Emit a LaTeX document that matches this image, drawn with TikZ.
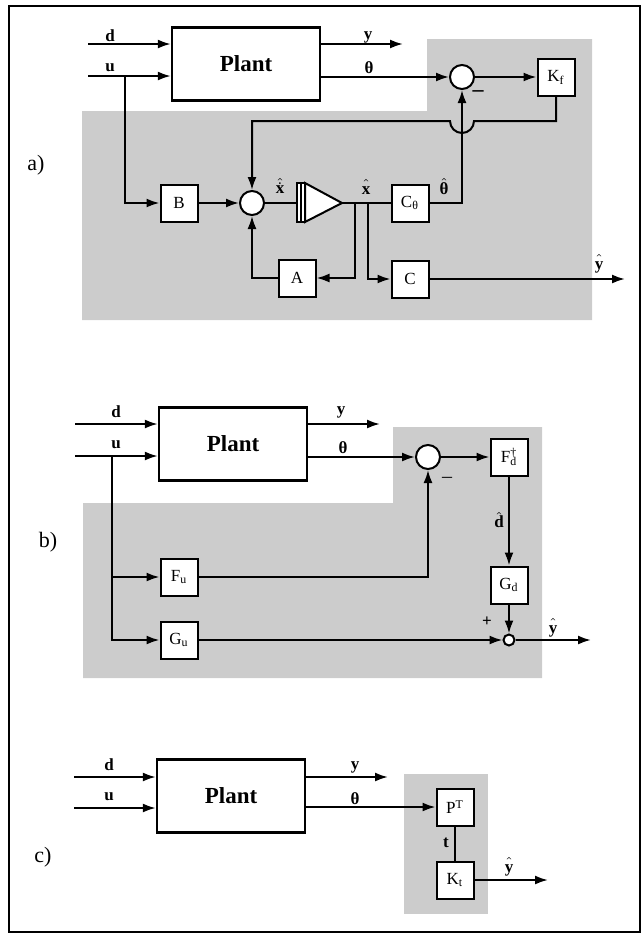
\documentclass[tikz,border=0pt]{standalone}
\usepackage{fontspec}
\setmainfont{Liberation Serif}
\usetikzlibrary{arrows.meta}
\newcommand{\hsig}[1]{$\hat{\vphantom{\textbf{X}}\textbf{#1}}$}

\begin{document}
\begin{tikzpicture}[x=0.5pt, y=-0.5pt, line width=1pt,
  >={Latex[length=6.5pt,width=4.5pt]},
  every node/.style={inner sep=0pt},
  blk/.style={draw, fill=white, minimum width=18.5pt, minimum height=18.5pt, font=\fontsize{8.5}{9}\selectfont},
  plant/.style={draw, line width=1.2pt, minimum width=74pt, minimum height=36.5pt, font=\bfseries\fontsize{11.5}{13}\selectfont},
  sig/.style={font=\bfseries\fontsize{8.5}{9}\selectfont},
  sumc/.style={circle, draw, fill=white, minimum size=12pt},
  tag/.style={font=\fontsize{11}{12}\selectfont},
  shade/.style={fill=black!20}]
\useasboundingbox (0,0) rectangle (641,933);
\draw[line width=0.8pt] (9,6) rectangle (640,932);

% a)
\fill[shade] (82,111) -- (427,111) -- (427,39) -- (592,39) -- (592,320) -- (82,320) -- cycle;
\node[plant] (plantA) at (246,64) {Plant};
\coordinate (dinA) at (88,44);
\coordinate (uinA) at (88,76);
\draw[->] (dinA) -- (dinA -| plantA.west);
\draw[->] (uinA) -- (uinA -| plantA.west);
\node[sig] (dlblA) at (110,36) {d};
\node[sig] (ulblA) at (110,68) {u};
\coordinate (youtA) at (403,44);
\draw[->] (plantA.east |- youtA) -- (youtA);
\node[sig] (ylblA) at (368,37) {y};
\node[sumc] (sumA1) at (462,77) {};
\draw[->] (plantA.east |- sumA1) -- (sumA1);
\node[sig] (thlblA) at (369,68) {θ};
\node[blk] (Kf) at (556,77) {K\textsubscript{f}};
\draw[->] (sumA1) -- (Kf);
\node[sig, font=\bfseries\fontsize{11}{12}\selectfont] (minusA) at (478,94) {–};
\node[sumc] (sumA2) at (252,203) {};
\node[blk] (B) at (179,203) {B};
\coordinate (ubrA) at (125,76);
\draw[->] (ubrA) |- (B);
\draw[->] (B) -- (sumA2);
\coordinate (intin) at (297,203);
\coordinate (intout) at (342,203);
\draw[fill=white] (297,183) rectangle (305,222);
\draw (301,183) -- (301,222);
\draw[fill=white] (305,183) -- (intout) -- (305,222) -- cycle;
\draw (sumA2) -- (intin);
\node[sig] (xdlbl) at (280,186) {$\hat{\dot{\textbf{x}}}$};
\node[blk] (Cth) at (410,203) {C\textsubscript{θ}};
\draw (intout) -- (Cth);
\node[sig] (xlbl) at (366,187) {\hsig{x}};
\node[blk] (A) at (297,278) {A};
\node[blk] (C) at (410,279) {C};
\coordinate (br1) at (355,203);
\coordinate (br2) at (368,203);
\draw[->] (br1) |- (A);
\draw[->] (br2) |- (C);
\draw[->] (A) -| (sumA2);
\draw[->] (Cth) -| (sumA1);
\node[sig] (thhlbl) at (444,187) {\hsig{θ}};
\coordinate (youtA2) at (625,279);
\draw[->] (C) -- (youtA2);
\node[sig] (yhlblA) at (599,264) {\hsig{y}};
\draw[->] (Kf) |- (474,121) arc[start angle=0,end angle=-180,radius=6pt] -| (sumA2);
\node[tag] (tagA) at (36,165) {a)};

% b)
\fill[shade] (83,503) -- (393,503) -- (393,427) -- (542,427) -- (542,678) -- (83,678) -- cycle;
\node[plant] (plantB) at (233,444) {Plant};
\coordinate (dinB) at (75,424);
\coordinate (uinB) at (75,456);
\draw[->] (dinB) -- (dinB -| plantB.west);
\draw[->] (uinB) -- (uinB -| plantB.west);
\node[sig] (dlblB) at (116,412) {d};
\node[sig] (ulblB) at (116,445) {u};
\coordinate (youtB) at (380,424);
\draw[->] (plantB.east |- youtB) -- (youtB);
\node[sig] (ylblB) at (341,412) {y};
\node[sumc] (sumB1) at (428,457) {};
\draw[->] (plantB.east |- sumB1) -- (sumB1);
\node[sig] (thlblB) at (343,448) {θ};
\node[blk] (Fd) at (509,457) {F\textsubscript{d}\llap{\textsuperscript{†}}};
\draw[->] (sumB1) -- (Fd);
\node (minusB) at (447,480) {–};
\node[blk] (Gd) at (509,585) {G\textsubscript{d}};
\draw[->] (Fd) -- (Gd);
\node[sig] (dhlbl) at (499,520) {\hsig{d}};
\node[circle, draw, fill=white, minimum size=5.5pt] (sumB2) at (509,640) {};
\draw[->] (Gd) -- (sumB2);
\node[sig] (plusB) at (487,622) {+};
\coordinate (youtB2) at (591,640);
\draw[->] (sumB2) -- (youtB2);
\node[sig] (yhlblB) at (553,628) {\hsig{y}};
\coordinate (ubrB) at (112,456);
\node[blk] (Fu) at (179,577) {F\textsubscript{u}};
\node[blk] (Gu) at (179,640) {G\textsubscript{u}};
\draw[->] (ubrB) |- (Gu);
\draw[->] (ubrB |- Fu) -- (Fu);
\draw[->] (Fu) -| (sumB1);
\draw[->] (Gu) -- (sumB2);
\node[tag] (tagB) at (48,542) {b)};

% c)
\fill[shade] (404,774) rectangle (488,914);
\node[plant] (plantC) at (231,796) {Plant};
\coordinate (dinC) at (74,777);
\coordinate (uinC) at (74,808);
\draw[->] (dinC) -- (dinC -| plantC.west);
\draw[->] (uinC) -- (uinC -| plantC.west);
\node[sig] (dlblC) at (109,765) {d};
\node[sig] (ulblC) at (109,797) {u};
\coordinate (youtC) at (388,777);
\draw[->] (plantC.east |- youtC) -- (youtC);
\node[sig] (ylblC) at (355,767) {y};
\node[blk] (PT) at (455,807) {P\textsuperscript{T}};
\draw[->] (plantC.east |- PT) -- (PT);
\node[sig] (thlblC) at (355,799) {θ};
\node[blk] (Kt) at (455,880) {K\textsubscript{t}};
\draw (PT) -- (Kt);
\node[sig] (tlbl) at (446,843) {t};
\coordinate (youtC2) at (548,880);
\draw[->] (Kt) -- (youtC2);
\node[sig] (yhlblC) at (509,867) {\hsig{y}};
\node[tag] (tagC) at (43,857) {c)};
\end{tikzpicture}
\end{document}
